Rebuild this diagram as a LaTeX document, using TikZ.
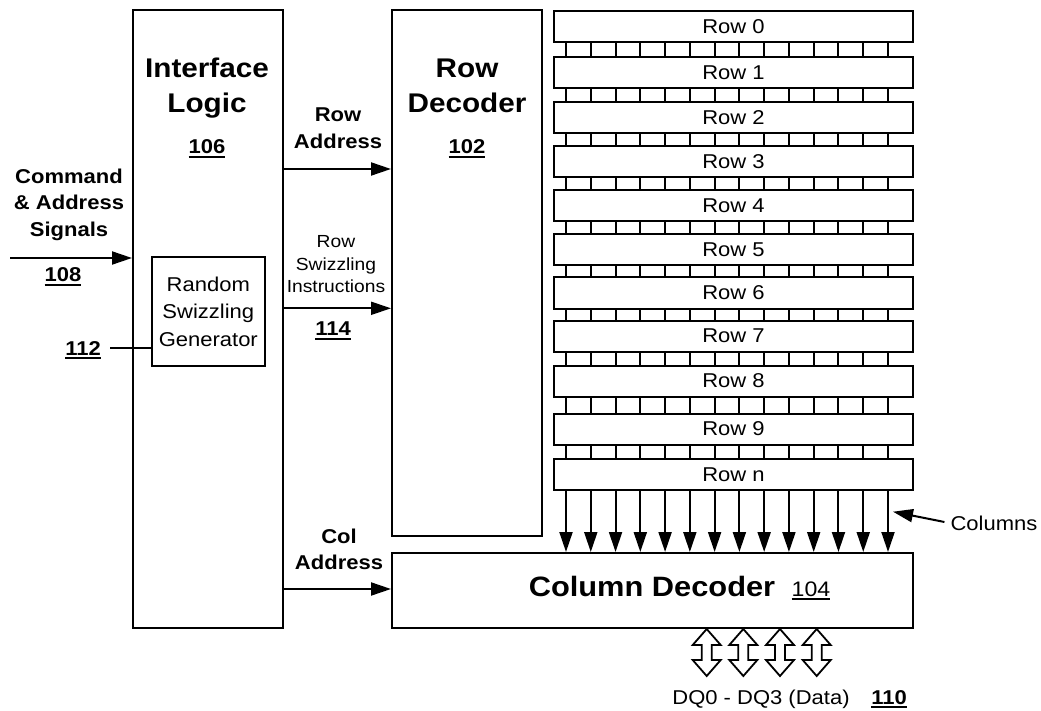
\documentclass[tikz,border=0pt]{standalone}
\usepackage{fontspec}
\setmainfont{Liberation Sans}[FakeStretch=1.1]
\usetikzlibrary{arrows.meta}
% underlined reference numeral with a heavier rule
\newcommand\numul[1]{\setbox0\hbox{#1}\rlap{\rule[-4pt]{\wd0}{1.8pt}}\box0}
\begin{document}
\begin{tikzpicture}[x=1pt,y=-1pt,
  box/.style={draw, line width=2pt, inner sep=0pt},
  rowbox/.style={draw, line width=2pt, inner sep=0pt, minimum width=359pt, minimum height=31pt,
    font=\fontsize{20}{24}\selectfont},
  lbl/.style={inner sep=0pt, align=center},
  bigtxt/.style={font=\fontsize{27}{35}\selectfont\bfseries},
  midtxt/.style={font=\fontsize{20}{26.6}\selectfont\bfseries},
  smalltxt/.style={font=\fontsize{17.5}{22.5}\selectfont},
  num/.style={inner sep=0pt, anchor=base, font=\fontsize{20}{24}\selectfont\bfseries},
  arr/.style={line width=2pt, -{Triangle[length=20pt,width=13pt]}},
  cell/.style={line width=2pt},
  dq/.style={draw, line width=1.8pt, line join=miter, fill=white}
]
\fill[white] (0,0) rectangle (1041,711);
\useasboundingbox (0,0) rectangle (1041,711);

% main blocks
\node[box, minimum width=150pt, minimum height=618pt] (iface) at (208,319) {};
\node[box, minimum width=150pt, minimum height=526pt] (rowdec) at (467,273) {};
\node[box, minimum width=521pt, minimum height=75pt] (coldec) at (652.5,590.5) {};
\node[box, minimum width=113pt, minimum height=109pt, align=center,
  font=\fontsize{20}{27.5}\selectfont] (rsg) at (208.3,311.7) {Random\\Swizzling\\Generator};

% block titles and numerals
\node[lbl, bigtxt] (iftxt) at (207,88.5) {Interface\\Logic};
\node[num] (n106) at (207,154) {\numul{106}};
\node[lbl, bigtxt] (rdtxt) at (467,86) {Row\\Decoder};
\node[num] (n102) at (467,154) {\numul{102}};
\node[lbl, anchor=base, font=\fontsize{28}{32}\selectfont\bfseries] (cdtxt) at (652,596) {Column Decoder};
\node[lbl, anchor=base, font=\fontsize{21}{25}\selectfont] (n104) at (811,596) {\numul{104}};

% memory rows
\foreach \t/\yc [count=\i from 0] in {0/26.5,1/72.5,2/117.5,3/162,4/206,5/249.5,6/293,7/336,8/381,9/429,n/474.5}
  \node[rowbox] (r\i) at (733.5,\yc) {Row \t};

% column positions
\foreach \k in {0,...,13}
  \coordinate (c\k) at ({566+24.77*\k},0);

% bit cells between adjacent rows
\foreach \i [evaluate=\i as \j using int(\i+1)] in {0,...,9}
  \foreach \k in {0,...,13}
    \draw[cell] (r\i.south -| c\k) -- (r\j.north -| c\k);

% columns into the column decoder
\foreach \k in {0,...,13}
  \draw[arr] (r10.south -| c\k) -- (coldec.north -| c\k);

% columns label
\node[lbl, font=\fontsize{20}{24}\selectfont] (collbl) at (994,523) {Columns};
\coordinate (coltip) at (893,511.7);
\draw[arr] ([xshift=-6pt,yshift=1pt]collbl.west) -- (coltip);

% command and address input
\node[lbl, midtxt] (cmd) at (69,204.7) {Command\\\& Address\\Signals};
\coordinate (cmdin) at (10,258);
\draw[arr] (cmdin) -- (cmdin -| iface.west);
\node[num] (n108) at (63,282) {\numul{108}};

% generator reference
\node[num] (n112) at (83,355) {\numul{112}};
\coordinate (l112) at (110,348);
\draw[line width=2pt] (l112) -- (l112 -| rsg.west);

% row address
\node[lbl, midtxt] (ratxt) at (338,128.2) {Row\\Address};
\coordinate (ya) at (0,169);
\draw[arr] (iface.east |- ya) -- (rowdec.west |- ya);

% row swizzling instructions
\node[lbl, smalltxt] (rsitxt) at (336,264.2) {Row\\Swizzling\\Instructions};
\coordinate (ys) at (0,308.3);
\draw[arr] (iface.east |- ys) -- (rowdec.west |- ys);
\node[num] (n114) at (333,335.5) {\numul{114}};

% column address
\node[lbl, midtxt] (catxt) at (339,549.2) {Col\\Address};
\coordinate (yc) at (0,589);
\draw[arr] (iface.east |- yc) -- (coldec.west |- yc);

% bidirectional data lines
\foreach \x [count=\k] in {706.7,743.3,780,816.7} {
  \coordinate (d\k) at (coldec.south -| \x,0);
  \draw[dq] (d\k) -- ++(14,16) -- ++(-9,0) -- ++(0,15) -- ++(9,0) -- ++(-14,16)
    -- ++(-14,-16) -- ++(9,0) -- ++(0,-15) -- ++(-9,0) -- cycle;
}
\node[lbl, anchor=base, font=\fontsize{20}{24}\selectfont] (dqtxt) at (761,704) {DQ0 - DQ3 (Data)};
\node[num] (n110) at (889,704) {\numul{110}};
\end{tikzpicture}
\end{document}
